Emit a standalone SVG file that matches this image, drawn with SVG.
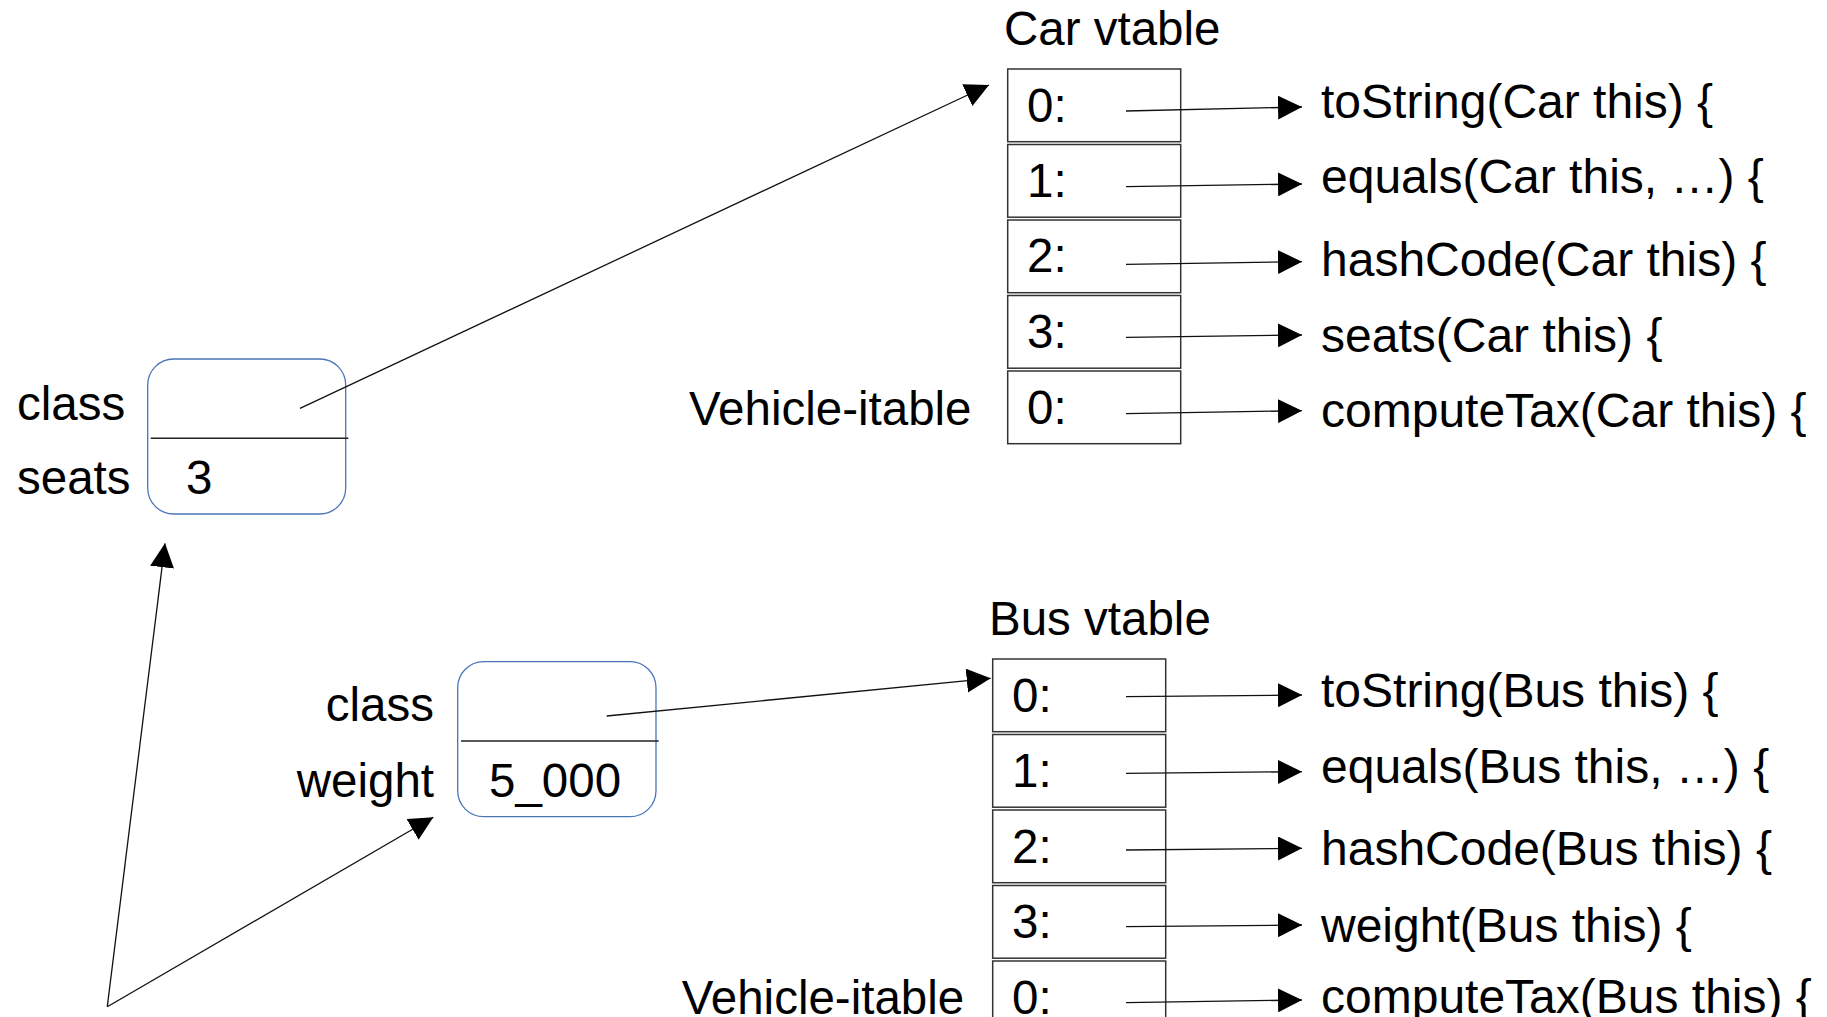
<svg xmlns="http://www.w3.org/2000/svg" width="1827" height="1017" viewBox="0 0 1827 1017">
<defs>
<style>
text{font-family:"Liberation Sans",Arial,sans-serif;font-size:47.5px;fill:#000}
.m{font-size:48px}
.cell{fill:#fff;stroke:#333;stroke-width:1.5}
.obj{fill:#fff;stroke:#4a75b8;stroke-width:1.3}
.div{stroke:#222;stroke-width:1.5}
.con{fill:none;stroke:#111;stroke-width:1.3}
.end{text-anchor:end}
</style>
<marker id="ah" markerUnits="userSpaceOnUse" markerWidth="24" markerHeight="24" viewBox="0 0 22 22" refX="22" refY="11" orient="auto">
<path d="M0,0 L22,11 L0,22 Z" fill="#000"/>
</marker>
</defs>
<rect width="1827" height="1017" fill="#fff"/>

<g id="car-object">
<rect class="obj" x="147.7" y="359" width="198" height="155" rx="26"/>
<line class="div" x1="150.7" y1="438.3" x2="348.3" y2="438.3"/>
<text x="17" y="420">class</text>
<text x="17" y="494">seats</text>
<text x="186" y="494">3</text>
</g>

<g id="bus-object">
<rect class="obj" x="457.7" y="661.7" width="198.3" height="155" rx="26"/>
<line class="div" x1="461" y1="741" x2="658.7" y2="741" stroke="#555"/>
<text class="end" x="434" y="721">class</text>
<text class="end" x="434" y="797">weight</text>
<text x="489" y="797">5_000</text>
</g>

<g id="car-vtable">
<text x="1004" y="45">Car vtable</text>
<rect class="cell" x="1007.7" y="69" width="173" height="72.7"/>
<rect class="cell" x="1007.7" y="144.5" width="173" height="72.7"/>
<rect class="cell" x="1007.7" y="220" width="173" height="72.7"/>
<rect class="cell" x="1007.7" y="295.5" width="173" height="72.7"/>
<rect class="cell" x="1007.7" y="371" width="173" height="72.7"/>
<text x="1027" y="121.7">0:</text>
<text x="1027" y="196.7">1:</text>
<text x="1027" y="272.3">2:</text>
<text x="1027" y="348.3">3:</text>
<text x="1027" y="424">0:</text>
<text x="689" y="425">Vehicle-itable</text>
</g>

<g id="car-methods">
<text class="m" x="1321" y="118">toString(Car this) {</text>
<text class="m" x="1321" y="193">equals(Car this, …) {</text>
<text class="m" x="1321" y="276">hashCode(Car this) {</text>
<text class="m" x="1321" y="352">seats(Car this) {</text>
<text class="m" x="1321" y="427">computeTax(Car this) {</text>
</g>

<g id="bus-vtable">
<text x="989" y="635">Bus vtable</text>
<rect class="cell" x="992.7" y="659" width="173" height="72.7"/>
<rect class="cell" x="992.7" y="734.5" width="173" height="72.7"/>
<rect class="cell" x="992.7" y="810" width="173" height="72.7"/>
<rect class="cell" x="992.7" y="885.5" width="173" height="72.7"/>
<rect class="cell" x="992.7" y="961" width="173" height="72.7"/>
<text x="1012" y="711.7">0:</text>
<text x="1012" y="787.3">1:</text>
<text x="1012" y="862.7">2:</text>
<text x="1012" y="938.3">3:</text>
<text x="1012" y="1014">0:</text>
<text x="681.7" y="1013.6">Vehicle-itable</text>
</g>

<g id="bus-methods">
<text class="m" x="1321" y="707">toString(Bus this) {</text>
<text class="m" x="1321" y="783.3">equals(Bus this, …) {</text>
<text class="m" x="1321" y="864.5">hashCode(Bus this) {</text>
<text class="m" x="1321" y="941.7">weight(Bus this) {</text>
<text class="m" x="1321" y="1013.3">computeTax(Bus this) {</text>
</g>

<g id="connectors">
<line class="con" x1="300" y1="408.3" x2="989" y2="85" marker-end="url(#ah)"/>
<line class="con" x1="606.7" y1="716" x2="990.7" y2="678.3" marker-end="url(#ah)"/>
<line class="con" x1="107.3" y1="1006.7" x2="165" y2="543.3" marker-end="url(#ah)"/>
<line class="con" x1="107.3" y1="1006.7" x2="433.3" y2="817.3" marker-end="url(#ah)"/>
<line class="con" x1="1126" y1="111" x2="1302" y2="107" marker-end="url(#ah)"/>
<line class="con" x1="1126" y1="186.7" x2="1302" y2="184" marker-end="url(#ah)"/>
<line class="con" x1="1126" y1="264.3" x2="1302" y2="261.7" marker-end="url(#ah)"/>
<line class="con" x1="1126" y1="337.3" x2="1302" y2="335" marker-end="url(#ah)"/>
<line class="con" x1="1126" y1="413.7" x2="1302" y2="410.7" marker-end="url(#ah)"/>
<line class="con" x1="1126" y1="696.7" x2="1302" y2="695" marker-end="url(#ah)"/>
<line class="con" x1="1126" y1="773.3" x2="1302" y2="771.7" marker-end="url(#ah)"/>
<line class="con" x1="1126" y1="850" x2="1302" y2="848.3" marker-end="url(#ah)"/>
<line class="con" x1="1126" y1="926.7" x2="1302" y2="925" marker-end="url(#ah)"/>
<line class="con" x1="1126" y1="1002.7" x2="1302" y2="1000" marker-end="url(#ah)"/>
</g>
</svg>
